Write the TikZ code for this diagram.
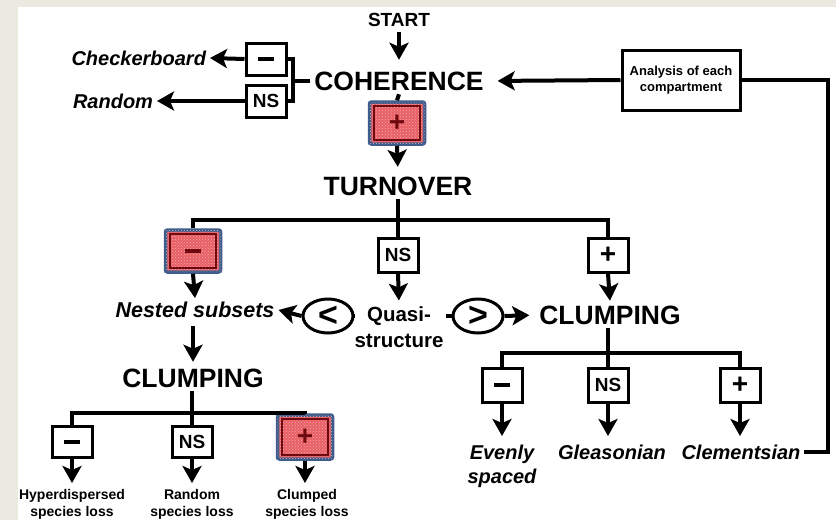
\documentclass[tikz,border=0pt]{standalone}
\usepackage{fontspec}
\setmainfont{Liberation Sans}
\usetikzlibrary{arrows.meta,shapes.geometric,patterns}
\definecolor{bgbeige}{RGB}{236,234,224}
\definecolor{hlblue}{RGB}{62,92,140}
\definecolor{hlred}{RGB}{232,96,102}
\definecolor{hldark}{RGB}{110,10,15}
\begin{document}
\begin{tikzpicture}[x=1pt,y=-1pt, line width=4pt,
  arr/.style={-{Stealth[length=17pt,width=19pt,inset=4pt]}},
  big/.style={font=\fontsize{26.5}{30}\selectfont\bfseries, text height=18.5pt, text depth=0pt, inner sep=2pt},
  lab/.style={font=\fontsize{20}{24}\selectfont\bfseries\itshape, inner sep=2pt, align=center},
  small/.style={font=\fontsize{14}{17}\selectfont\bfseries, align=center, inner sep=1pt},
  sbox/.style={draw, fill=white, line width=3pt, minimum width=40pt, minimum height=32pt, font=\fontsize{19}{20}\selectfont\bfseries, inner sep=0pt},
  hbox/.style={draw=hlblue, line width=3.5pt, rounded corners=2pt, fill=hlred, minimum width=55pt, minimum height=42pt, inner sep=0pt,
     postaction={pattern=crosshatch dots, pattern color=white!45!hlred}},
  hsym/.style={text=hldark, font=\fontsize{28}{28}\selectfont\bfseries, inner sep=0pt},
  hin/.style={hldark, line width=2pt},
  ell/.style={draw, fill=white, ellipse, line width=3pt, minimum width=50pt, minimum height=34pt, inner sep=0pt, font=\fontsize{34}{34}\selectfont\bfseries},
]
\fill[bgbeige] (0,0) rectangle (836,520);
\fill[white] (18,7) rectangle (836,520);
\useasboundingbox (0,0) rectangle (836,520);

% top part
\node[font=\fontsize{19}{22}\selectfont\bfseries, text height=14pt, text depth=0pt, inner sep=2pt] (start) at (399,19) {START};
\node[big] (coh) at (399,81) {COHERENCE};
\node[sbox] (minus1) at (266,59) {\rule{16pt}{3.5pt}};
\node[sbox] (ns1) at (266,101) {NS};
\node[lab, anchor=east] (checker) at (210,58) {Checkerboard};
\node[lab, anchor=east] (random) at (157,101) {Random};
\node[draw, fill=white, line width=3pt, minimum width=118pt, minimum height=60pt, font=\fontsize{13}{16}\selectfont\bfseries, align=center, inner sep=1pt] (ana) at (681,80) {Analysis of each\\compartment};
\coordinate (bt) at (293,59);
\coordinate (bb) at (293,101);
\coordinate (fr) at (828,0);

\draw[arr, shorten <=2pt, shorten >=8pt] (start.south) -- (coh.north);
\draw (minus1.east) -- (bt) -- (bb) -- (ns1.east);
\draw (coh.west) -- (coh.west -| bt);
\draw[arr] (minus1.west) -- (checker.east);
\draw[arr] (ns1.west) -- (random.east);
\draw[arr, shorten >=10pt] (ana.west) -- (coh.east);

% coherence +
\node[hbox] (h1) at (397,123) {};
\draw[hin] ([shift={(6,6)}]h1.north west) rectangle ([shift={(-6,-6)}]h1.south east);
\node[hsym] (h1s) at (h1) {+};
\draw (coh.south) -- (h1.north);

\node[big] (turn) at (398,186) {TURNOVER};
\draw[arr, shorten >=6pt] (h1.south) -- (turn.north);

% turnover branches
\coordinate (tj) at (398,220);
\node[hbox] (h2) at (193,251) {};
\draw[hin] ([shift={(6,6)}]h2.north west) rectangle ([shift={(-6,-6)}]h2.south east);
\node[hsym] (h2s) at (h2) {\rule{16pt}{3.5pt}};
\node[sbox, minimum height=34pt] (ns2) at (398,255) {NS};
\node[sbox, minimum height=34pt, font=\fontsize{28}{28}\selectfont\bfseries] (plus2) at (608,255) {+};
\draw (turn.south) -- (ns2.north);
\draw (h2.north) -- (h2.north |- tj) -- (plus2.north |- tj) -- (plus2.north);

% middle row
\node[lab, font=\fontsize{21.5}{24}\selectfont\bfseries\itshape] (nested) at (195,310) {Nested subsets};
\node[font=\fontsize{20.5}{26}\selectfont\bfseries, align=center, inner sep=1pt] (quasi) at (399,327) {Quasi-\\structure};
\node[ell] (lt) at (328,316) {<};
\node[ell] (gt) at (478,316) {>};
\node[big] (clumpR) at (610,315) {CLUMPING};
\draw[arr] (h2.south) -- (nested.north);
\draw[arr, shorten >=3pt] (ns2.south) -- (quasi.north);
\draw[arr, shorten >=1pt] (plus2.south) -- (clumpR.north);
\draw (quasi.west |- lt.east) -- (lt.east);
\draw[arr] (lt.west) -- (nested.east);
\draw (quasi.east |- gt.west) -- (gt.west);
\draw[arr, shorten >=6pt] (gt.east) -- (clumpR.west);

% right clumping branches
\coordinate (rj) at (608,353);
\node[sbox, minimum height=34pt] (m3) at (502,385) {\rule{16pt}{3.5pt}};
\node[sbox, minimum height=34pt] (ns3) at (608,385) {NS};
\node[sbox, minimum height=34pt, font=\fontsize{28}{28}\selectfont\bfseries] (p3) at (740,385) {+};
\draw (ns3.north |- clumpR.south) -- (ns3.north);
\draw (m3.north) -- (m3.north |- rj) -- (p3.north |- rj) -- (p3.north);
\node[lab, anchor=north] (even) at (502,441) {Evenly\\spaced};
\node[lab, anchor=north] (glea) at (612,441) {Gleasonian};
\node[lab, anchor=north] (clem) at (741,441) {Clementsian};
\draw[arr, shorten >=5pt] (m3.south) -- (even.north);
\draw[arr, shorten >=5pt] (ns3.south) -- (ns3.south |- glea.north);
\draw[arr, shorten >=5pt] (p3.south) -- (p3.south |- clem.north);
\draw (ana.east) -- (ana.east -| fr) -- (fr |- clem.east) -- (clem.east);

% left clumping
\node[big] (clumpL) at (193,378) {CLUMPING};
\draw[arr, shorten <=4pt, shorten >=3pt] (nested.south -| clumpL.north) -- (clumpL.north);
\coordinate (lj) at (191,413);
\node[sbox, minimum height=31pt] (m4) at (72,442) {\rule{16pt}{3.5pt}};
\node[sbox, minimum height=31pt] (ns4) at (192,442) {NS};
\node[hbox, minimum height=44pt] (h3) at (305,437) {};
\draw[hin] ([shift={(6,6)}]h3.north west) rectangle ([shift={(-6,-6)}]h3.south east);
\node[hsym] (h3s) at (h3) {+};
\draw (ns4.north |- clumpL.south) -- (ns4.north);
\draw (m4.north) -- (m4.north |- lj) -- (h3.north |- lj) -- (h3.north);
\node[small, anchor=north] (hyper) at (72,486) {Hyperdispersed\\species loss};
\node[small, anchor=north] (rand2) at (192,486) {Random\\species loss};
\node[small, anchor=north] (clumped) at (307,486) {Clumped\\species loss};
\draw[arr, shorten >=3pt] (m4.south) -- (hyper.north);
\draw[arr, shorten >=3pt] (ns4.south) -- (rand2.north);
\draw[arr, shorten >=3pt] (h3.south) -- (h3.south |- clumped.north);
\end{tikzpicture}
\end{document}
